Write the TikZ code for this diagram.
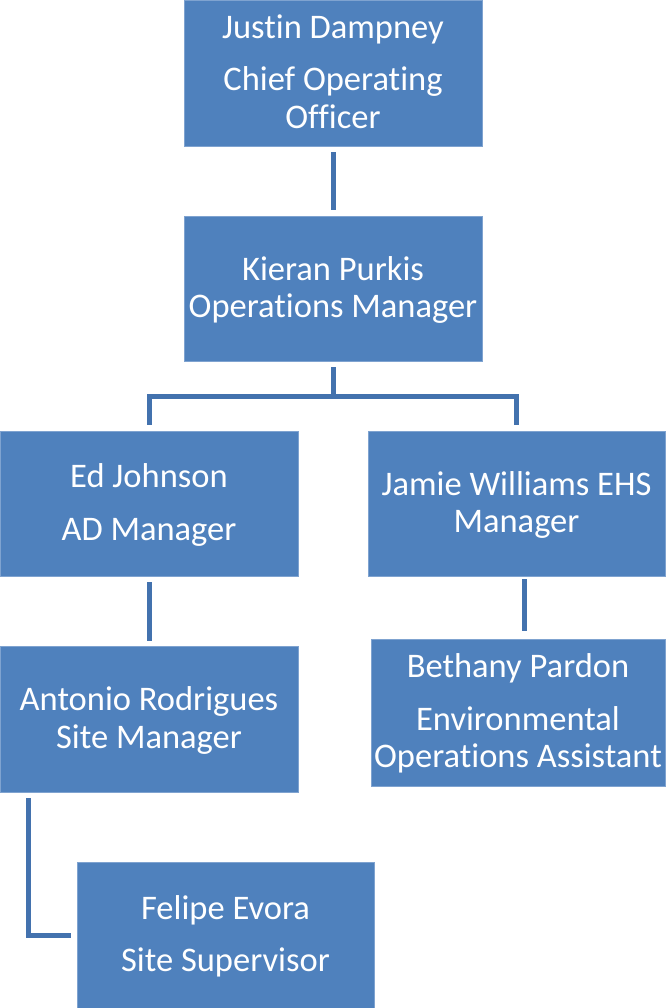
\documentclass[tikz,border=0pt]{standalone}
\usepackage{fontspec}
\setmainfont[Ligatures=NoCommon]{Carlito}
\definecolor{boxblue}{HTML}{4F81BD}
\definecolor{boxedge}{HTML}{7FA3D0}
\definecolor{connblue}{HTML}{4372AE}
\newcommand\topstr{\rule{0pt}{32pt}}
\tikzset{
  orgbox/.style={rectangle, fill=boxblue, draw=boxedge, line width=0.8pt,
    minimum width=298pt, minimum height=146pt, inner sep=0pt, align=center,
    text=white, font=\fontsize{34.5}{37.5}\selectfont},
  conn/.style={draw=connblue, line width=5pt}
}
\begin{document}
\begin{tikzpicture}[x=1pt,y=-1pt]
\useasboundingbox (0,0) rectangle (666,1008);
\node[orgbox] (coo) at (333,73) {\topstr Justin Dampney\\[15pt]Chief Operating\\Officer\strut};
\node[orgbox, minimum height=145pt] (ops) at (333,288.5) {\topstr Kieran Purkis\\Operations Manager\strut};
\node[orgbox, minimum height=145pt] (ed) at (149,503.5) {\topstr Ed Johnson\\[15pt]AD Manager\strut};
\node[orgbox, minimum width=297pt, minimum height=145pt] (jamie) at (516.5,503.5) {\topstr Jamie Williams EHS\\Manager\strut};
\node[orgbox] (antonio) at (149,719) {\topstr Antonio Rodrigues\\Site Manager\strut};
\node[orgbox, minimum width=294pt, minimum height=147pt] (bethany) at (518,712.5) {\topstr Bethany Pardon\\[15pt]Environmental\\Operations Assistant\strut};
\node[orgbox, minimum width=297pt] (felipe) at (225.5,935) {\topstr Felipe Evora\\[15pt]Site Supervisor\strut};

\coordinate (jb1) at ([xshift=7.5pt,yshift=-3pt]jamie.south);
\coordinate (jb2) at ([xshift=7.5pt,yshift=8pt]jamie.south |- bethany.north);
\coordinate (af) at ([xshift=29pt,yshift=-6pt]antonio.south west);

\draw[conn] ([yshift=-6pt]coo.south) -- ([yshift=6pt]ops.north);
\draw[conn] ([yshift=-6pt]ops.south) -- ++(0,29) -| ([yshift=6pt]ed.north);
\draw[conn] ([yshift=-6pt]ops.south) -- ++(0,29) -| ([yshift=6pt]jamie.north);
\draw[conn] ([yshift=-6pt]ed.south) -- ([yshift=5pt]antonio.north);
\draw[conn] (jb1) -- (jb2);
\draw[conn] (af) |- ([xshift=-6pt]felipe.west);
\end{tikzpicture}
\end{document}
